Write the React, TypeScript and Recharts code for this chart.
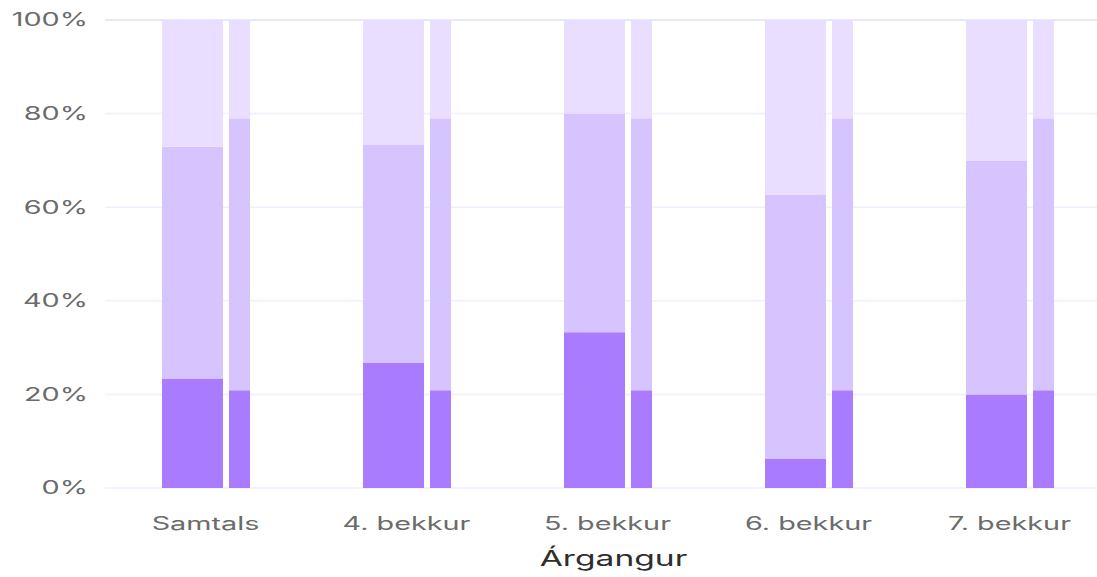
import { Bar, BarChart, CartesianGrid, Label, ReferenceLine, XAxis, YAxis } from 'recharts'

const categories = ['Samtals', '4. bekkur', '5. bekkur', '6. bekkur', '7. bekkur']

// Breiða súlan (skólinn) – þrír hlutar sem leggjast saman í 100%
const skoliLagt = [23.4, 26.7, 33.3, 6.3, 20.0]
const skoliMidja = [49.5, 46.6, 46.7, 56.3, 50.0]
const skoliHatt = [27.1, 26.7, 20.0, 37.4, 30.0]

// Mjóa súlan (landið) – sama skipting fyrir alla árganga
const landLagt = [20.9, 20.9, 20.9, 20.9, 20.9]
const landMidja = [58.1, 58.1, 58.1, 58.1, 58.1]
const landHatt = [21.0, 21.0, 21.0, 21.0, 21.0]

const yTicks = [0, 20, 40, 60, 80, 100]

const data = categories.map((name, i) => ({
  name,
  skoliLagt: skoliLagt[i],
  skoliMidja: skoliMidja[i],
  skoliHatt: skoliHatt[i],
  landLagt: landLagt[i],
  landMidja: landMidja[i],
  landHatt: landHatt[i],
}))

const DARK = '#a97bff'
const MID = '#d6c4ff'
const LIGHT = '#e9deff'
const FONT = 'Inter, "Noto Sans", sans-serif'
// Myndin er teygð lárétt, svo textinn er það líka.
const SX = 1.6

function YTick({ x, y, payload }: any) {
  return (
    <text
      transform={`translate(${x} ${y}) scale(${SX} 1)`}
      textAnchor="end"
      dy="0.36em"
      fontSize={18}
      fill="#6b6b6b"
      fontFamily={FONT}
    >
      {payload.value}%
    </text>
  )
}

function XTick({ x, y, payload }: any) {
  return (
    <text
      transform={`translate(${x} ${y}) scale(${SX} 1)`}
      textAnchor="middle"
      fontSize={18}
      fill="#6b6b6b"
      fontFamily={FONT}
    >
      {payload.value}
    </text>
  )
}

function AxisTitle({ viewBox }: any) {
  const cx = viewBox.x + viewBox.width / 2 + 6
  return (
    <text
      transform={`translate(${cx} ${viewBox.y + 78}) scale(${SX} 1)`}
      textAnchor="middle"
      fontSize={21}
      fill="#2e2e2e"
      fontFamily={FONT}
    >
      Árgangur
    </text>
  )
}

export default function App() {
  return (
    <div style={{ position: 'absolute', left: 0, top: 0, width: 1097, height: 577, overflow: 'hidden', background: '#fff' }}>
      <BarChart
        width={1110}
        height={577}
        data={data}
        margin={{ top: 20, right: 0, bottom: 0, left: 0 }}
        barGap={6}
      >
        <CartesianGrid vertical={false} stroke="#f0effc" strokeWidth={1.5} />
        <ReferenceLine y={100} stroke="#e5e3fb" strokeWidth={1.5} />
        <XAxis
          dataKey="name"
          height={89}
          axisLine={false}
          tickLine={false}
          tickSize={0}
          tickMargin={42}
          tick={<XTick />}
          interval={0}
        >
          <Label content={<AxisTitle />} />
        </XAxis>
        <YAxis
          width={105}
          domain={[0, 100]}
          ticks={yTicks}
          axisLine={false}
          tickLine={false}
          tickSize={0}
          tickMargin={17}
          tick={<YTick />}
        />
        <Bar dataKey="skoliLagt" stackId="skoli" fill={DARK} barSize={61} isAnimationActive={false} />
        <Bar dataKey="skoliMidja" stackId="skoli" fill={MID} barSize={61} isAnimationActive={false} />
        <Bar dataKey="skoliHatt" stackId="skoli" fill={LIGHT} barSize={61} isAnimationActive={false} />
        <Bar dataKey="landLagt" stackId="land" fill={DARK} barSize={21} isAnimationActive={false} />
        <Bar dataKey="landMidja" stackId="land" fill={MID} barSize={21} isAnimationActive={false} />
        <Bar dataKey="landHatt" stackId="land" fill={LIGHT} barSize={21} isAnimationActive={false} />
      </BarChart>
    </div>
  )
}
